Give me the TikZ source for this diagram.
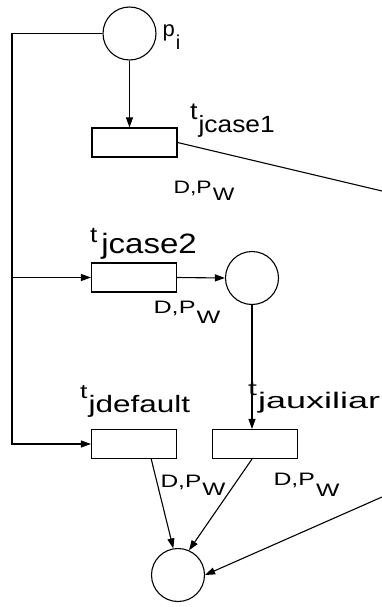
\documentclass[tikz,border=0pt]{standalone}
\usepackage{graphicx}
\usepackage{fontspec}
\setmainfont{Liberation Sans}
\usetikzlibrary{arrows.meta,calc}
\newcommand\fsz[1]{\fontsize{#1}{#1}\selectfont}
\newcommand\sx[2]{\scalebox{#1}[1]{#2}}
\begin{document}
\begin{tikzpicture}[x=1pt,y=-1pt,line width=1.1pt,
  place/.style={circle,draw,minimum size=53pt,inner sep=0pt},
  trans/.style={rectangle,draw,minimum width=85pt,minimum height=29pt,inner sep=0pt},
  arr/.style={-{Triangle[length=10pt,width=7pt]}},
  lab/.style={anchor=base west,inner sep=0pt,font=\fsz{#1}}]
\useasboundingbox (0,0) rectangle (382,607);
\node[place] (pi) at (129.5,33.5) {};
\node[trans] (c1) at (134.5,142.5) {};
\node[trans] (c2) at (134,277.5) {};
\node[place] (mid) at (252,278) {};
\node[trans] (jd) at (134,444) {};
\node[trans] (ja) at (255,444) {};
\node[place] (bot) at (178,575) {};
\coordinate (lx) at (12,0);
\coordinate (outA) at (382,191);
\coordinate (outB) at (382,497);
\draw[arr] (pi.west) -| (lx |- jd.west) -- (jd.west);
\draw[arr] (lx |- c2.west) -- (c2.west);
\draw[arr] (pi.south) -- (pi.south |- c1.north);
\draw (c1.east) -- (outA);
\draw[arr] (c2.east) -- (mid.west);
\draw[arr] (mid.south) -- (mid.south |- ja.north);
\draw[arr] ($(jd.south west)!0.7!(jd.south east)$) -- (bot.100);
\draw[arr] (ja.south -| mid.south) -- (bot.66);
\draw[arr] (outB) -- (bot.east);
% p_i
\node[lab=22] (lp) at (162,37) {p};
\node[lab=20] (lpi) at ($(lp.base east)+(0,13)$) {i};
% t labels
\node[lab=24] (l1t) at (189.5,120) {\sx{1.12}{t}};
\node[lab=23.5] (l1s) at ($(l1t.base east)+(0,12)$) {\sx{1.12}{jcase1}};
\node[lab=22] (l2t) at (89.5,242) {\sx{1.18}{t}};
\node[lab=28] (l2s) at ($(l2t.base east)+(3,11)$) {\sx{1.18}{jcase2}};
\node[lab=20] (l3t) at (79.5,398) {\sx{1.33}{t}};
\node[lab=23.7] (l3s) at ($(l3t.base east)+(0,14)$) {\sx{1.33}{jdefault}};
\node[lab=20] (l4t) at (247.5,395) {\sx{1.6}{t}};
\node[lab=22.5] (l4s) at ($(l4t.base east)+(0,13)$) {\sx{1.6}{jauxiliar}};
% D,P_W labels
\node[lab=18] (d1) at (173,193) {\sx{1.27}{D,P}};
\node[lab=18] (d1w) at ($(d1.base east)+(0,7)$) {\sx{1.27}{W}};
\node[lab=18] (d2) at (153,313) {\sx{1.4}{D,P}};
\node[lab=18] (d2w) at ($(d2.base east)+(0,10)$) {\sx{1.4}{W}};
\node[lab=18] (d3) at (160,487) {\sx{1.36}{D,P}};
\node[lab=18] (d3w) at ($(d3.base east)+(0,8)$) {\sx{1.36}{W}};
\node[lab=18] (d4) at (273,485) {\sx{1.38}{D,P}};
\node[lab=18] (d4w) at ($(d4.base east)+(0,11)$) {\sx{1.38}{W}};
\end{tikzpicture}
\end{document}
